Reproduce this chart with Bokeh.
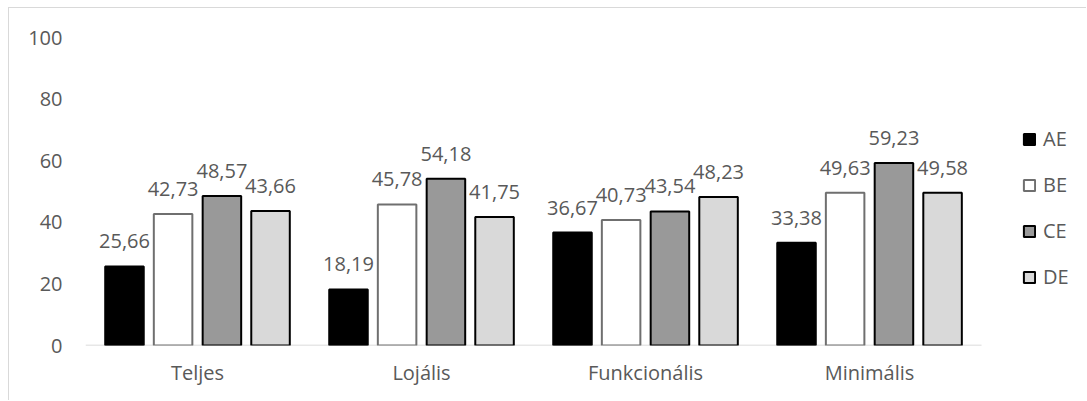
from bokeh.plotting import figure
from bokeh.models import ColumnDataSource, Range1d, FixedTicker, Legend, LegendItem
from bokeh.core.properties import value
from bokeh.embed import file_html
from bokeh.resources import INLINE

# Scores per customer segment for the four groups
categories = ["Teljes", "Lojális", "Funkcionális", "Minimális"]
series_names = ["AE", "BE", "CE", "DE"]
ae = [25.66, 18.19, 36.67, 33.38]
be = [42.73, 45.78, 40.73, 49.63]
ce = [48.57, 54.18, 43.54, 59.23]
de = [43.66, 41.75, 48.23, 49.58]
y_ticks = [0, 20, 40, 60, 80, 100]

series_values = [ae, be, ce, de]
fills = ["#000000", "#ffffff", "#999999", "#d9d9d9"]
outlines = ["#000000", "#6f6f6f", "#000000", "#000000"]
offsets = [-0.326, -0.109, 0.109, 0.326]
BAR_W = 0.172

FONT = "Open Sans"
TXT = "#595959"
FS = "20px"

n_cat = len(categories)
centers = [i + 0.5 for i in range(n_cat)]


def hu(v):
    return f"{v:.2f}".replace(".", ",")


# Category slots are 0..n_cat on a numeric axis; the frame runs on to the
# right edge so the legend can sit inside it.
p = figure(
    x_range=Range1d(0, 4.473),
    y_range=Range1d(0, 100),
    width=1078,
    height=393,
    margin=(7, 0, 0, 8),
    output_backend="svg",
    toolbar_location=None,
    min_border_left=76,
    min_border_right=0,
    min_border_top=29,
    min_border_bottom=56,
)
p.styles = {"border-left": "1px solid #d9d9d9", "border-top": "1px solid #d9d9d9"}
p.outline_line_color = None
p.xgrid.visible = False
p.ygrid.visible = False

# baseline under the bars
p.segment(x0=[0], y0=[0], x1=[n_cat], y1=[0], line_color="#d0d0d0", line_width=1.5)

renderers = []
for name, vals, off, fc, lc in zip(series_names, series_values, offsets, fills, outlines):
    src = ColumnDataSource(dict(
        x=[c + off for c in centers],
        top=vals,
        lbl=[hu(v) for v in vals],
    ))
    r = p.vbar(x="x", top="top", width=BAR_W, source=src,
               fill_color=fc, line_color=lc, line_width=2)
    renderers.append(r)
    p.text(x="x", y="top", text="lbl", source=src,
           text_font=value(FONT), text_font_size=FS, text_color=TXT,
           text_align="center", text_baseline="alphabetic", y_offset=-25)

# axes
p.yaxis.ticker = FixedTicker(ticks=y_ticks)
p.yaxis.axis_line_color = None
p.yaxis.major_tick_line_color = None
p.yaxis.minor_tick_line_color = None
p.yaxis.major_tick_out = 0
p.yaxis.major_label_standoff = 23
p.yaxis.major_label_text_font = FONT
p.yaxis.major_label_text_font_size = FS
p.yaxis.major_label_text_color = TXT

p.xaxis.ticker = FixedTicker(ticks=centers)
p.xaxis.major_label_overrides = {c: name for c, name in zip(centers, categories)}
p.xaxis.axis_line_color = None
p.xaxis.major_tick_line_color = None
p.xaxis.minor_tick_line_color = None
p.xaxis.major_tick_out = 0
p.xaxis.major_label_standoff = 13
p.xaxis.major_label_text_font = FONT
p.xaxis.major_label_text_font_size = FS
p.xaxis.major_label_text_color = TXT

legend = Legend(
    items=[LegendItem(label=n, renderers=[r]) for n, r in zip(series_names, renderers)],
    location=(937, 55),
    orientation="vertical",
    glyph_width=14,
    glyph_height=14,
    label_standoff=7,
    spacing=19,
    padding=0,
    margin=0,
    border_line_color=None,
    background_fill_alpha=0,
    label_text_font=FONT,
    label_text_font_size=FS,
    label_text_color=TXT,
)
p.add_layout(legend)

open("out.html", "w").write(file_html(p, INLINE))
